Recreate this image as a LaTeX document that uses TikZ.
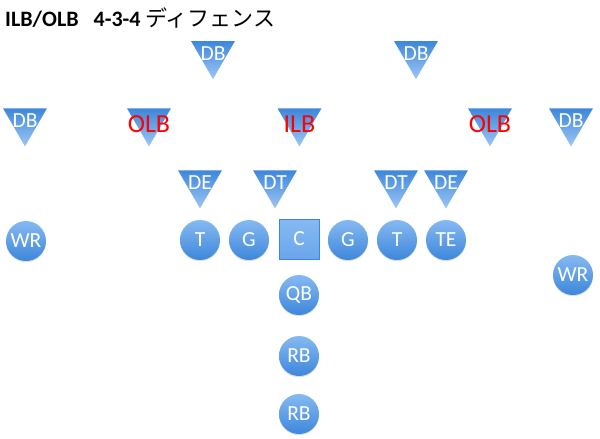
\documentclass[tikz,border=0pt]{standalone}
\usepackage{fontspec}
\setmainfont{Carlito}
\newfontfamily\cjk{Noto Sans CJK JP}
\usetikzlibrary{shapes.geometric, shadows}

\definecolor{bluedark}{HTML}{3D87DB}
\definecolor{bluelight}{HTML}{9DC6F4}
\definecolor{bluetop}{HTML}{86B9F2}
\definecolor{bluemid}{HTML}{6AA6EC}

\begin{document}
\begin{tikzpicture}[x=1pt, y=-1pt,
    defender/.style={regular polygon, regular polygon sides=3, shape border rotate=180,
        minimum size=50.8pt, inner sep=0pt, top color=bluedark, bottom color=bluelight},
    player/.style={circle, minimum size=40pt, inner sep=0pt, top color=bluetop,
        bottom color=bluedark, text=white, font=\fontsize{21.5}{21.5}\selectfont,
        drop shadow={opacity=0.25, shadow xshift=0pt, shadow yshift=-1.2pt}},
    center/.style={rectangle, minimum size=40pt, inner sep=0pt, draw=bluedark, thin,
        top color=bluetop, bottom color=bluemid, text=white,
        font=\fontsize{21.5}{21.5}\selectfont},
    wtext/.style={text=white, font=\fontsize{21.5}{21.5}\selectfont},
    lbtext/.style={text=red, font=\fontsize{26}{26}\selectfont, yshift=-3.5pt}]

        % fix the page to the size of the reference
        \useasboundingbox (0,0) rectangle (600,439);

        % title
        \node[anchor=west, inner sep=0pt, font=\fontsize{22}{22}\selectfont] (title) at (5,18)
            {\textbf{ILB/OLB\ \ \ 4-3-4} {\cjk ディフェンス}};

        % deep backs
        \node[defender, label={[wtext]center:DB}] (db1) at (213,53.7) {};
        \node[defender, label={[wtext]center:DB}] (db2) at (416,53.7) {};

        % linebackers and corners
        \node[defender, label={[wtext]center:DB}] (db3) at (25,121) {};
        \node[defender, label={[lbtext]center:OLB}] (olb1) at (149,121) {};
        \node[defender, label={[lbtext]center:ILB}] (ilb) at (299.5,121) {};
        \node[defender, label={[lbtext]center:OLB}] (olb2) at (490,121) {};
        \node[defender, label={[wtext]center:DB}] (db4) at (571,121) {};

        % defensive line
        \foreach \n/\x/\t in {de1/200/DE, dt1/275/DT, dt2/396/DT, de2/446/DE}
            \node[defender, label={[wtext]center:\t}] (\n) at (\x,183) {};

        % offensive line
        \foreach \n/\x/\t in {lt/200/T, lg/249/G, rg/348/G, rt/397/T, te/446/TE}
            \node[player] (\n) at (\x,240) {\t};
        \node[center] (c) at (299,239) {C};

        % receivers and backs
        \node[player] (wr1) at (26,241) {WR};
        \node[player] (wr2) at (573,275) {WR};
        \node[player] (qb) at (299,295) {QB};
        \node[player] (rb1) at (299,356) {RB};
        \node[player] (rb2) at (299,414) {RB};

\end{tikzpicture}
\end{document}
